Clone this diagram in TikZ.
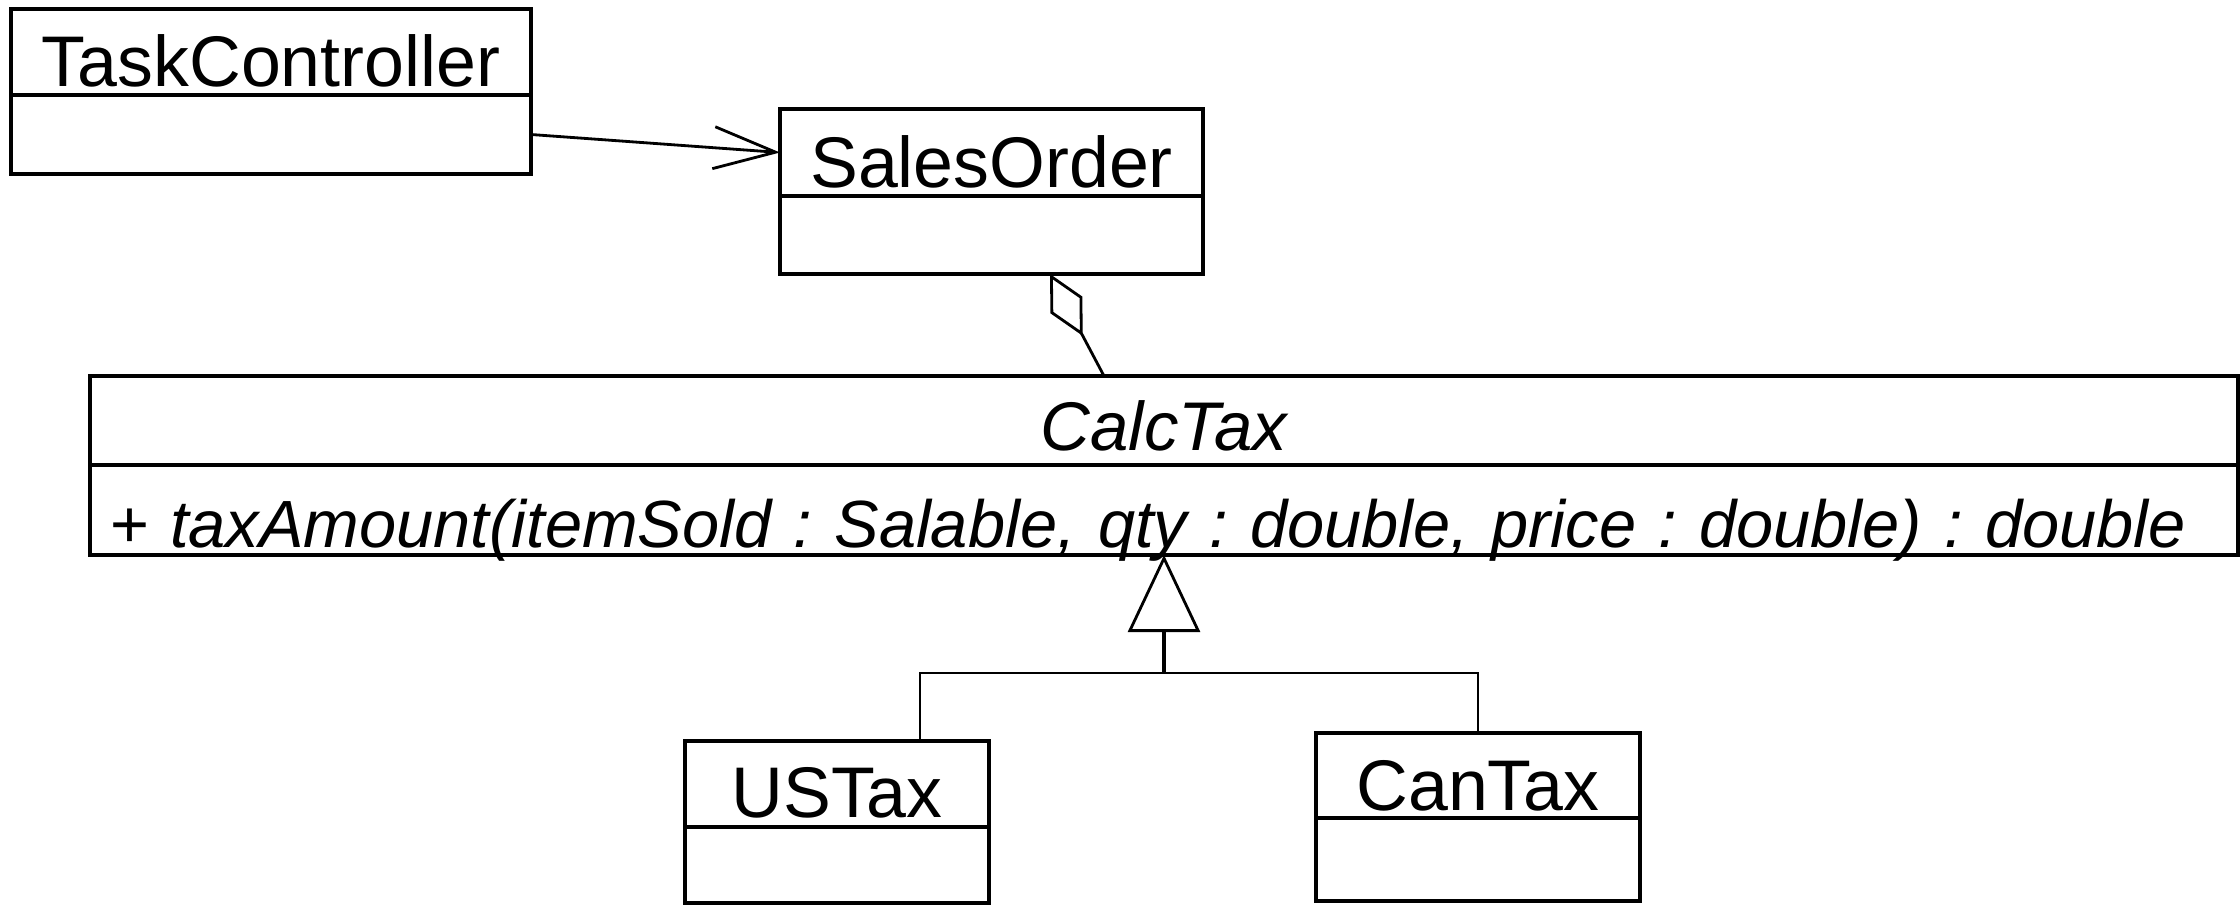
\documentclass[tikz,border=0pt]{standalone}
\usepackage{fontspec}
\setmainfont{Liberation Sans}
\usetikzlibrary{arrows.meta,calc}
\frenchspacing

\tikzset{
  classname/.style={draw, line width=1.1pt, inner sep=0pt, outer sep=0pt, text height=0.77cm, text depth=0.09cm, font=\fontsize{20.4}{24}\selectfont},
  classbody/.style={draw, line width=1.1pt, inner sep=0pt, outer sep=0pt, font=\fontsize{20.4}{24}\selectfont},
  link/.style={line width=0.8pt},
}

\begin{document}
\begin{tikzpicture}
    \useasboundingbox (0,0) rectangle (22.4,9.05);

    \node[classname, minimum width=5.2cm, anchor=north west] (tc) at (0.11,8.96) {TaskController};
    \node[classbody, minimum width=5.2cm, minimum height=0.79cm, anchor=north] (tcb) at (tc.south) {};

    \node[classname, minimum width=4.23cm, text height=0.78cm, anchor=north west] (so) at (7.80,7.96) {SalesOrder};
    \node[classbody, minimum width=4.23cm, minimum height=0.78cm, anchor=north] (sob) at (so.south) {};

    \node[classname, minimum width=21.48cm, text height=0.74cm, text depth=0.15cm, font=\fontsize{19.6}{23}\selectfont\itshape, anchor=north west] (ct) at (0.90,5.29) {CalcTax};
    \node[classbody, text width=21.1cm, inner xsep=0.19cm, text height=0.82cm, text depth=0.08cm, align=left, font=\fontsize{19}{23}\selectfont\itshape, anchor=north] (ctb) at (ct.south) {\mbox{+ taxAmount(itemSold : Salable, qty : double, price : double) : double}};

    \node[classname, minimum width=3.04cm, text height=0.76cm, text depth=0.10cm, anchor=north west] (us) at (6.85,1.64) {USTax};
    \node[classbody, minimum width=3.04cm, minimum height=0.76cm, anchor=north] (usb) at (us.south) {};

    \node[classname, minimum width=3.24cm, text depth=0.08cm, anchor=north west] (can) at (13.16,1.72) {CanTax};
    \node[classbody, minimum width=3.24cm, minimum height=0.83cm, anchor=north] (canb) at (can.south) {};

    \draw[link, -{Straight Barb[length=0.62cm, width=0.42cm]}] (tcb.east) -- (so.west); % association
    \draw[link, -{Diamond[open, length=0.7cm, width=0.36cm]}] ([xshift=-0.6cm]ct.north) -- ([xshift=0.585cm]sob.south); % aggregation

    \coordinate (fork) at ($(ctb.south)+(0,-1.18)$);
    \draw[line width=1.4pt, {Triangle[open, length=0.77cm, width=0.72cm, line width=0.8pt]}-] (ctb.south) -- (fork); % generalization
    \draw[link] ([xshift=0.83cm]us.north) |- (fork) -| (can.north);
\end{tikzpicture}
\end{document}
